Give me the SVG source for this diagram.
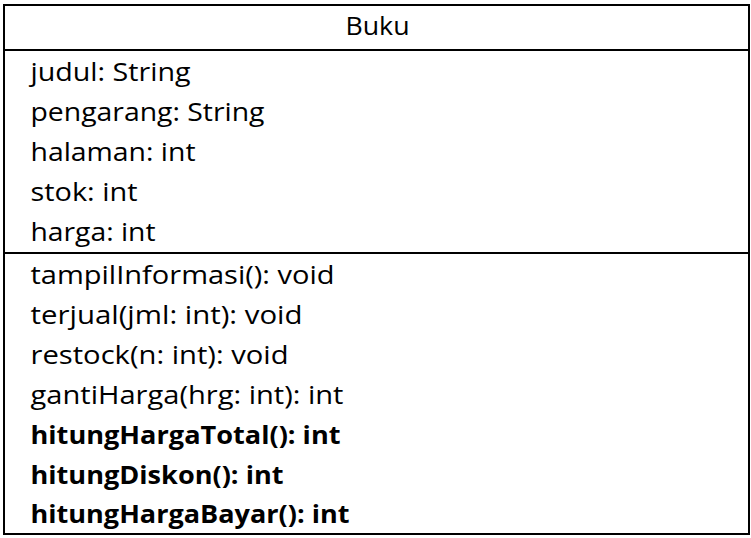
<svg xmlns="http://www.w3.org/2000/svg" width="751" height="538" viewBox="0 0 751 538">
  <style>
    .frame { fill: #ffffff; stroke: #000000; stroke-width: 2; }
    .rule { stroke: #000000; stroke-width: 2; }
    .t { font-family: "Open Sans", "Noto Sans", "Liberation Sans", sans-serif; font-size: 25px; fill: #000000; }
    .b { font-weight: 700; }
  </style>
  <rect width="751" height="538" fill="#ffffff"/>
  <g id="class-buku">
    <rect class="frame" x="4" y="5" width="745" height="529"/>
    <!-- compartment separators -->
    <line class="rule" x1="4" y1="50" x2="749" y2="50"/>
    <line class="rule" x1="4" y1="253" x2="749" y2="253"/>
    <!-- class name -->
    <text class="t" x="345.5" y="34.5" textLength="64" lengthAdjust="spacingAndGlyphs">Buku</text>
    <!-- attributes -->
    <g id="attributes">
      <text class="t" x="30.5" y="81" textLength="160" lengthAdjust="spacingAndGlyphs">judul: String</text>
      <text class="t" x="30.5" y="121" textLength="234" lengthAdjust="spacingAndGlyphs">pengarang: String</text>
      <text class="t" x="30.5" y="161" textLength="165" lengthAdjust="spacingAndGlyphs">halaman: int</text>
      <text class="t" x="30.5" y="201" textLength="107" lengthAdjust="spacingAndGlyphs">stok: int</text>
      <text class="t" x="30.5" y="241" textLength="125" lengthAdjust="spacingAndGlyphs">harga: int</text>
    </g>
    <!-- operations -->
    <g id="operations">
      <text class="t" x="30.5" y="284" textLength="304" lengthAdjust="spacingAndGlyphs">tampilInformasi(): void</text>
      <text class="t" x="30.5" y="324" textLength="272" lengthAdjust="spacingAndGlyphs">terjual(jml: int): void</text>
      <text class="t" x="30.5" y="364" textLength="258" lengthAdjust="spacingAndGlyphs">restock(n: int): void</text>
      <text class="t" x="30.5" y="404" textLength="313" lengthAdjust="spacingAndGlyphs">gantiHarga(hrg: int): int</text>
      <text class="t b" x="30.5" y="444" textLength="310" lengthAdjust="spacingAndGlyphs">hitungHargaTotal(): int</text>
      <text class="t b" x="30.5" y="484" textLength="253" lengthAdjust="spacingAndGlyphs">hitungDiskon(): int</text>
      <text class="t b" x="30.5" y="523" textLength="319" lengthAdjust="spacingAndGlyphs">hitungHargaBayar(): int</text>
    </g>
  </g>
  <g id="connectors"/>
</svg>
